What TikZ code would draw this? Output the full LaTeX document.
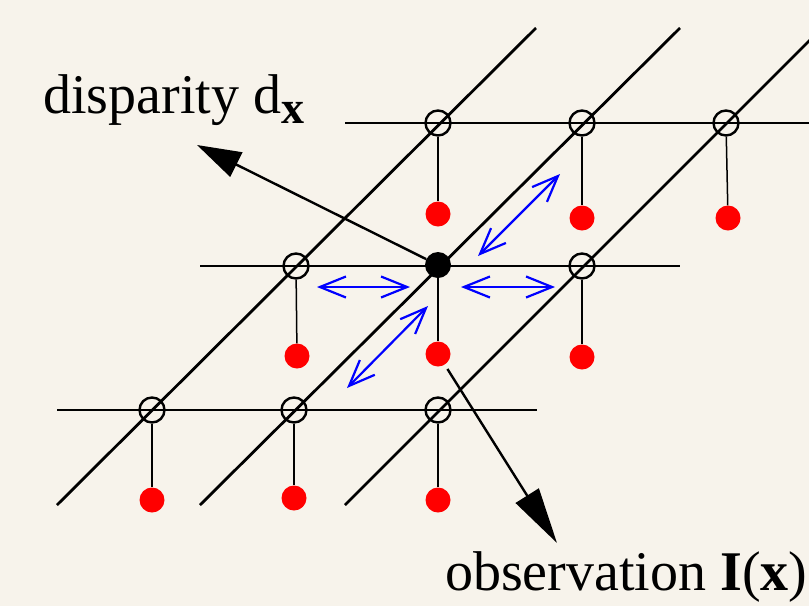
\documentclass[tikz,border=0pt]{standalone}
\usepackage{fontspec}
\setmainfont{Liberation Serif}
\usetikzlibrary{arrows.meta}
\definecolor{bgc}{RGB}{247,243,235}
\definecolor{bluec}{RGB}{0,0,255}
\begin{document}
\begin{tikzpicture}[x=1pt,y=-1pt,
  gridline/.style={line width=2.8pt,black},
  site/.style={circle,draw=black,line width=2.4pt,minimum size=25pt,inner sep=0pt},
  obsdot/.style={circle,fill=red,minimum size=25pt,inner sep=0pt},
  curdot/.style={circle,fill=black,minimum size=26pt,inner sep=0pt},
  stem/.style={line width=1.5pt,black},
  blarrow/.style={line width=2.2pt,bluec,{Straight Barb[length=26pt,width=21pt]}-{Straight Barb[length=26pt,width=21pt]}},
  bigarrow/.style={line width=2.4pt,black},
  lbl/.style={inner sep=0pt,anchor=base west,font=\fontsize{56}{60}\selectfont}
]
\fill[bgc] (0,0) rectangle (809,606);
\useasboundingbox (0,0) rectangle (809,606);

% grid lines
\draw[gridline] (345,123) -- (830,123);
\draw[gridline] (200,266) -- (680,266);
\draw[gridline] (57,410) -- (537,410);
\draw[gridline] (536,28) -- (57,505);
\draw[gridline] (680,28) -- (200,505);
\draw[gridline] (830,20) -- (345,505);

% sites
\node[site] (s11) at (438,123) {};
\node[site] (s12) at (582,123) {};
\node[site] (s13) at (726,123) {};
\node[site] (s21) at (296,266) {};
\node[curdot] (c) at (438,265) {};
\node[site] (s23) at (582,266) {};
\node[site] (s31) at (152,410) {};
\node[site] (s32) at (294,410) {};
\node[site] (s33) at (438,410) {};

% observations
\node[obsdot] (o11) at (438,214) {};
\node[obsdot] (o12) at (582,218) {};
\node[obsdot] (o13) at (728,218) {};
\node[obsdot] (o21) at (297,356) {};
\node[obsdot] (o22) at (438,354) {};
\node[obsdot] (o23) at (582,357) {};
\node[obsdot] (o31) at (152,500) {};
\node[obsdot] (o32) at (294,498) {};
\node[obsdot] (o33) at (438,500) {};

\draw[stem] (s11) -- (o11);
\draw[stem] (s12) -- (o12);
\draw[stem] (s13) -- (o13);
\draw[stem] (s21) -- (o21);
\draw[stem] (c) -- (o22);
\draw[stem] (s23) -- (o23);
\draw[stem] (s31) -- (o31);
\draw[stem] (s32) -- (o32);
\draw[stem] (s33) -- (o33);

% blue neighbourhood arrows
\coordinate (hl1) at (317,287); \coordinate (hl2) at (410,287);
\coordinate (hr1) at (461,287); \coordinate (hr2) at (555,287);
\coordinate (du1) at (478,256); \coordinate (du2) at (560,174);
\coordinate (dl1) at (347,388); \coordinate (dl2) at (428,306);
\draw[blarrow] (hl1) -- (hl2);
\draw[blarrow] (hr1) -- (hr2);
\draw[blarrow] (du1) -- (du2);
\draw[blarrow] (dl1) -- (dl2);

% labels
\node[lbl] (disp) at (43,113) {disparity d\raisebox{-10pt}{\fontsize{46}{46}\selectfont\bfseries x}};
\node[lbl] (obs) at (445,590) {observation \textbf{I}(\textbf{x})};

\coordinate (dtip) at (197,145);
\coordinate (otip) at (557,543);
\draw[bigarrow,-{Triangle[length=44pt,width=27pt]}] (c) -- (dtip);
\draw[bigarrow,-{Triangle[length=56pt,width=27pt]},shorten <=5pt] (o22) -- (otip);
\end{tikzpicture}
\end{document}
